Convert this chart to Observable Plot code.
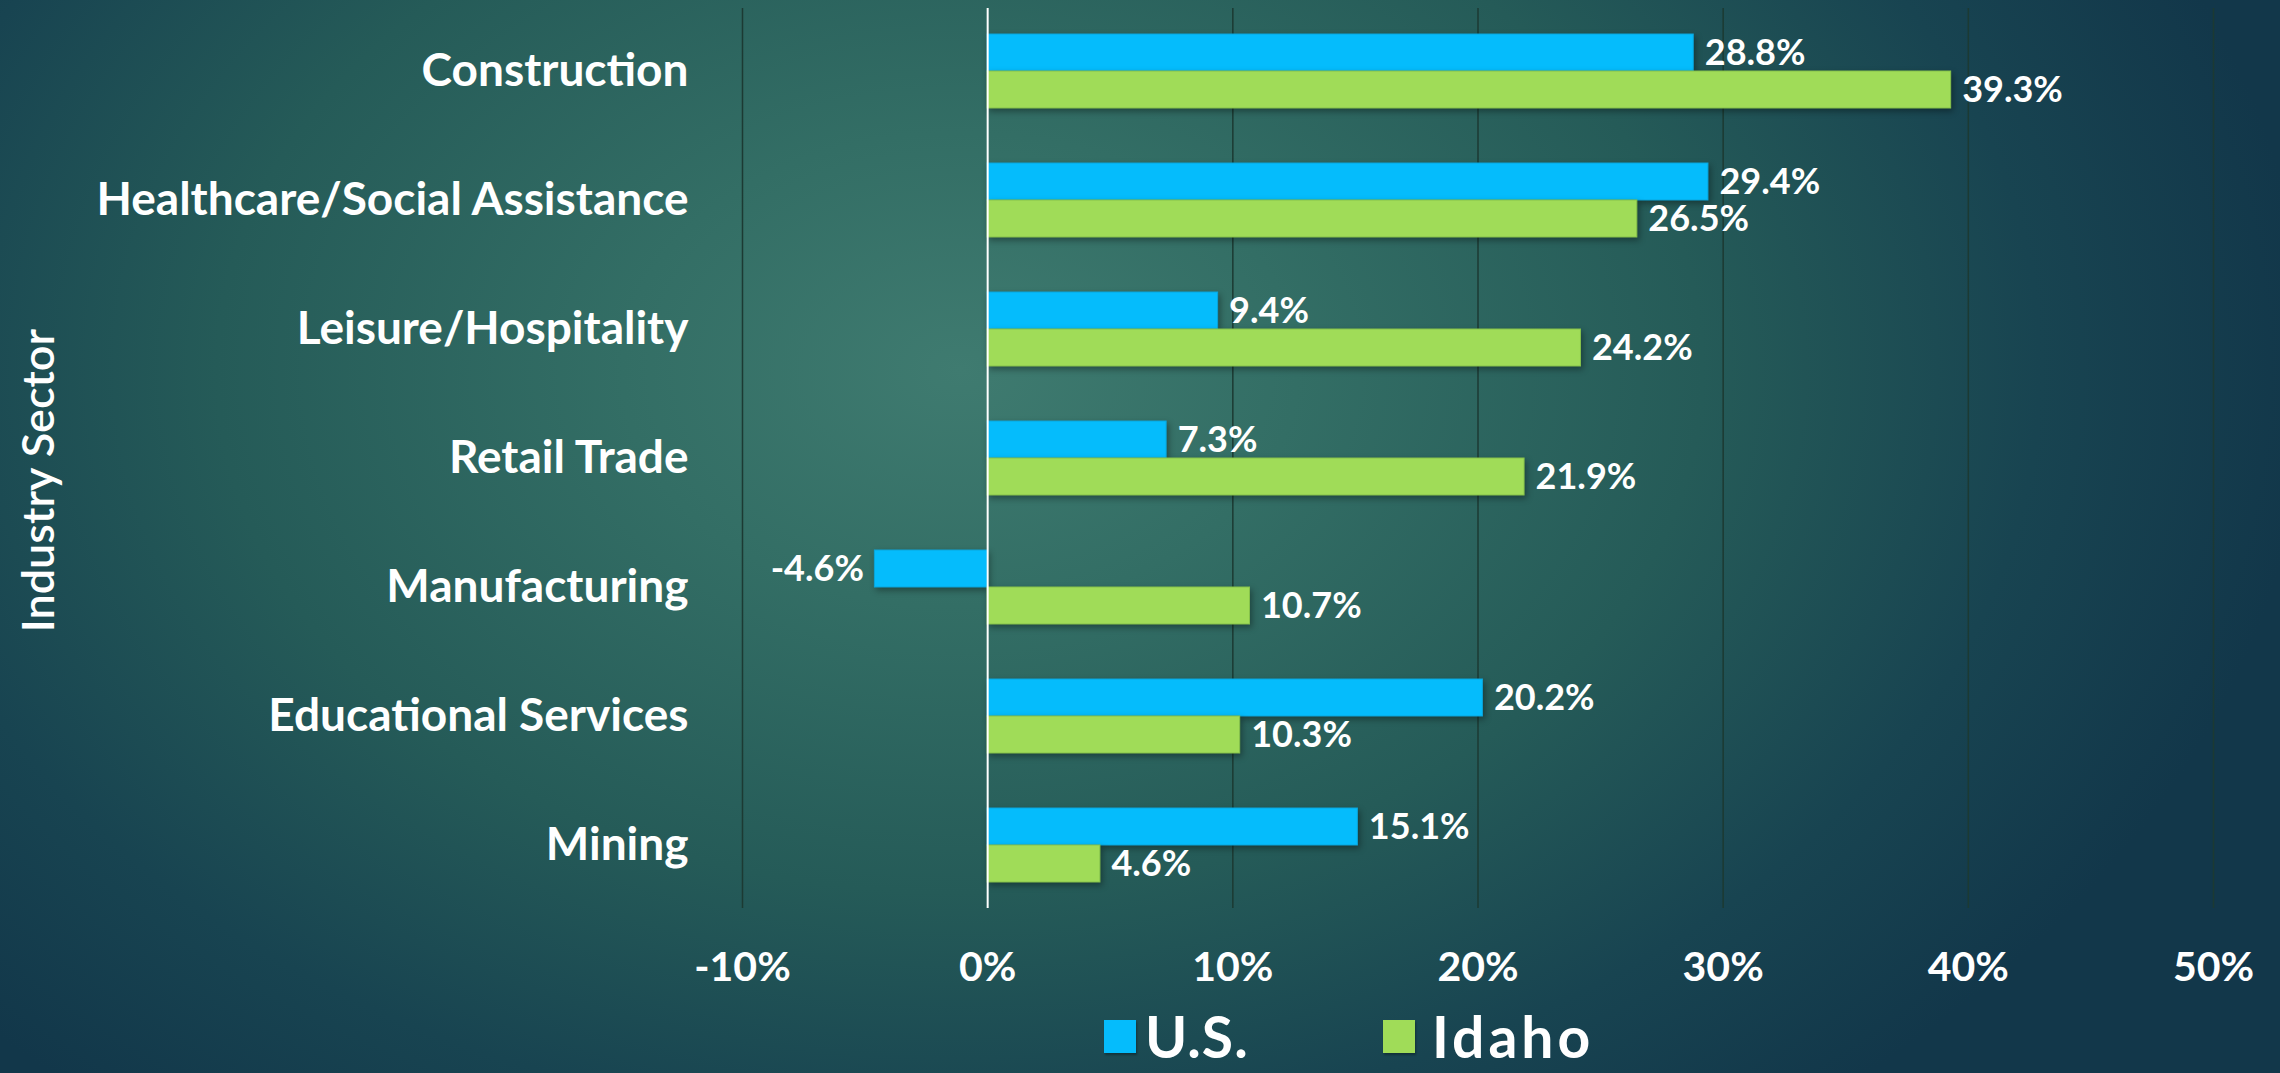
<!DOCTYPE html>
<html><head><meta charset="utf-8">
<script src="https://cdn.jsdelivr.net/npm/d3@7"></script>
<script src="https://cdn.jsdelivr.net/npm/@observablehq/plot@0.6"></script>
<style>
html,body{margin:0;padding:0;}
body{width:2280px;height:1073px;overflow:hidden;
  background: radial-gradient(ellipse 1350px 950px at 960px 370px, #3f7b70 0%, #336e65 25%, #255b58 55%, #184451 80%, #12374a 100%);
  font-family:Lato, "Open Sans", sans-serif;color:#fff;}
#chart svg{display:block;background:transparent;}
g[aria-label="bar"]{filter:drop-shadow(2px 3px 3px rgba(0,0,0,0.35));}
#legend{position:relative;height:73px;}
.item{position:absolute;top:0;height:73px;display:flex;align-items:center;}
.sw{width:32px;height:33px;box-shadow:1px 2px 2px rgba(0,0,0,0.3);}
.lab{font-size:57px;font-weight:bold;line-height:57px;}
</style></head>
<body><div id="chart"></div><div id="legend"></div>
<script>
const categories = ["Construction","Healthcare/Social Assistance","Leisure/Hospitality","Retail Trade","Manufacturing","Educational Services","Mining"];
const usValues = [28.8, 29.4, 9.4, 7.3, -4.6, 20.2, 15.1];
const idahoValues = [39.3, 26.5, 24.2, 21.9, 10.7, 10.3, 4.6];
const series = ["U.S.", "Idaho"];
const colors = ["#05BCFC", "#A0DC58"];
const xTicks = [-10, 0, 10, 20, 30, 40, 50];
const yTitle = "Industry Sector";

const usData = categories.map((c, i) => ({category: c, series: series[0], value: usValues[i]}));
const idahoData = categories.map((c, i) => ({category: c, series: series[1], value: idahoValues[i]}));
const fmt = d => d.value.toFixed(1) + "%";

const chart = Plot.plot({
  width: 2280, height: 1000,
  marginLeft: 742, marginRight: 67, marginTop: 8, marginBottom: 92,
  style: {background: "transparent", color: "#fff", fontFamily: "Lato, 'Open Sans', sans-serif", overflow: "visible"},
  x: {domain: [-10, 50]},
  y: {domain: categories, paddingInner: 0.429, paddingOuter: 0.1875},
  marks: [
    Plot.ruleX(xTicks.filter(d => d !== 0), {stroke: "#1c3a33", strokeWidth: 1.5}),
    Plot.barX(usData, {x: "value", y: "category", fill: colors[0], stroke: "#0aa6dc", strokeWidth: 1, insetBottom: 37}),
    Plot.barX(idahoData, {x: "value", y: "category", fill: colors[1], stroke: "#86c24a", strokeWidth: 1, insetTop: 37}),
    Plot.ruleX([0], {stroke: "#ffffff", strokeWidth: 2}),
    Plot.text(usData, {filter: d => d.value >= 0, x: "value", y: "category", text: fmt, dy: -18.5, dx: 11, textAnchor: "start", fill: "#fff", fontSize: 36, fontWeight: "bold"}),
    Plot.text(usData, {filter: d => d.value < 0, x: "value", y: "category", text: fmt, dy: -18.5, dx: -11, textAnchor: "end", fill: "#fff", fontSize: 36, fontWeight: "bold"}),
    Plot.text(idahoData, {x: "value", y: "category", text: fmt, dy: 18.5, dx: 11, textAnchor: "start", fill: "#fff", fontSize: 36, fontWeight: "bold"}),
    Plot.axisX({ticks: xTicks, tickFormat: d => d + "%", tickSize: 0, tickPadding: 43, fontSize: 41, fontWeight: "bold", label: null}),
    Plot.axisY({tickSize: 0, tickPadding: 54, fontSize: 46, fontWeight: "bold", label: null}),
    Plot.text([yTitle], {frameAnchor: "left", textAnchor: "middle", dx: -703, dy: 22, rotate: -90, fontSize: 45, fontWeight: 600, fill: "#fff"})
  ]
});
document.getElementById("chart").appendChild(chart);

const legend = document.getElementById("legend");
const lefts = [1104, 1383];
const gaps = [9, 17];
const spacing = [1, 4];
series.forEach((s, i) => {
  const item = document.createElement("div");
  item.className = "item";
  item.style.left = lefts[i] + "px";
  item.innerHTML = `<div class="sw" style="background:${colors[i]};margin-right:${gaps[i]}px"></div><div class="lab" style="letter-spacing:${spacing[i]}px">${s}</div>`;
  legend.appendChild(item);
});
</script>
</body></html>
